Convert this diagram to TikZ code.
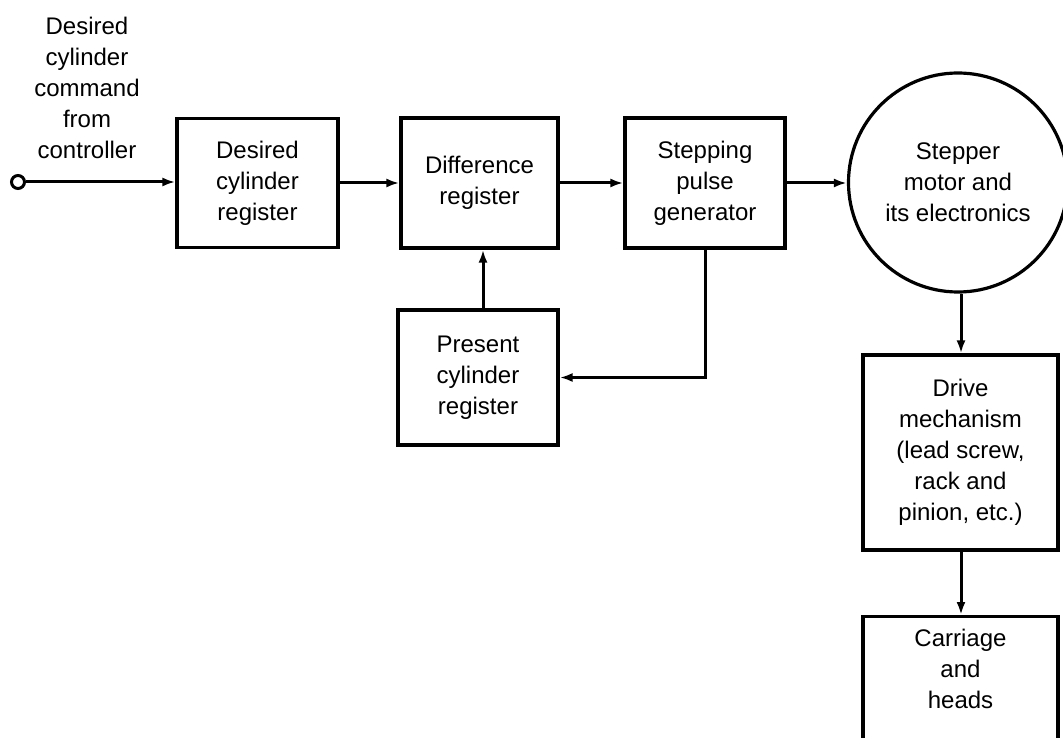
\documentclass[tikz,border=0pt]{standalone}
\usepackage{fontspec}
\setmainfont{Liberation Sans}
\usetikzlibrary{arrows.meta}
\begin{document}
\begin{tikzpicture}[x=1pt,y=-1pt,
  every node/.style={font=\fontsize{24}{31}\selectfont, align=center},
  box/.style={draw, line width=3.2pt, inner sep=0pt},
  arr/.style={line width=3pt, -{Latex[length=13pt,width=9pt]}},
  ln/.style={line width=3pt}]
\clip (0,0) rectangle (1063,738);
\useasboundingbox (0,0) rectangle (1063,738);
% input terminal and label
\node[draw, circle, line width=3pt, minimum size=13pt, inner sep=0pt] (in) at (18,182) {};
\node (inlab) at (87,88) {Desired\\cylinder\\command\\from\\controller};
% blocks
\node[box, minimum width=161pt, minimum height=129pt] (b1) at (257.5,183) {Desired\\cylinder\\register};
\node[box, minimum width=157pt, minimum height=130pt] (b2) at (479.5,183) {Difference\\register};
\node[box, minimum width=160pt, minimum height=130pt] (b3) at (705,183) {Stepping\\pulse\\generator};
\node[draw, circle, line width=3.2pt, minimum size=219pt, inner sep=0pt] (mot) at (958,182.5) {Stepper\\motor and\\its electronics};
\node[box, minimum width=160pt, minimum height=135pt] (b4) at (478,377.5) {Present\\cylinder\\register};
\node[box, minimum width=195pt, minimum height=195pt] (drive) at (960.5,452.5) {Drive\\mechanism\\(lead screw,\\rack and\\pinion, etc.)};
\node[box, minimum width=195pt, minimum height=160pt, anchor=north] (carr) at (960.5,615) {};
\node (carrlab) at (960.5,669) {Carriage\\and\\heads};
% connectors
\draw[arr] (in.east) -- (in.east -| b1.west);
\draw[arr] (b1.east) -- (b2.west);
\draw[arr] (b2.east) -- (b3.west);
\draw[arr] (b3.east) -- (b3.east -| mot.west);
\coordinate (up) at (483,0);
\draw[arr] (b4.north -| up) -- (b2.south -| up);
\draw[arr] (b3.south) |- (b4.east);
\coordinate (dn) at (961,0);
\draw[arr] (mot.south -| dn) -- (drive.north -| dn);
\draw[arr] (drive.south -| dn) -- (carr.north -| dn);
\end{tikzpicture}
\end{document}
